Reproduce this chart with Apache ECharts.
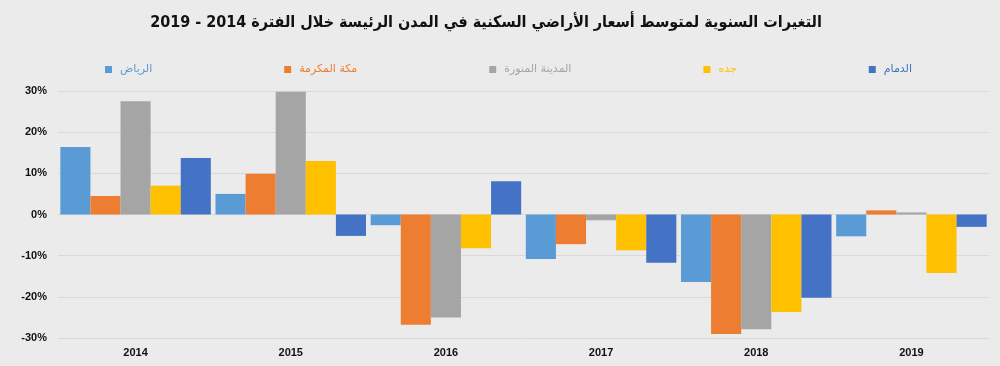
<!DOCTYPE html>
<html>
<head>
<meta charset="utf-8">
<script src="https://cdn.jsdelivr.net/npm/echarts@6/dist/echarts.min.js"></script>
<style>
html,body{margin:0;padding:0;background:#ebebeb;}
#c{width:1000px;height:366px;}
</style>
</head>
<body>
<div id="c"></div>
<script>
const years = ['2014', '2015', '2016', '2017', '2018', '2019'];
const riyadh  = [16.4, 5.0, -2.6, -10.8, -16.4, -5.3];
const makkah  = [4.5, 9.9, -26.8, -7.2, -29.0, 1.0];
const madinah = [27.5, 29.8, -25.0, -1.4, -27.9, 0.5];
const jeddah  = [7.0, 13.0, -8.2, -8.7, -23.7, -14.2];
const dammam  = [13.7, -5.2, 8.1, -11.7, -20.2, -3.0];
const seriesNames = ['الرياض', 'مكة المكرمة', 'المدينة المنورة', 'جده', 'الدمام'];
const colors = ['#5B9BD5', '#ED7D31', '#A5A5A5', '#FFC000', '#4472C4'];
const yTicks = [-30, -20, -10, 0, 10, 20, 30];
const titleText = 'التغيرات السنوية لمتوسط أسعار الأراضي السكنية في المدن الرئيسة خلال الفترة 2014 - 2019';

const dataSets = [riyadh, makkah, madinah, jeddah, dammam];
const chart = echarts.init(document.getElementById('c'), null, {renderer: 'canvas'});
chart.setOption({
  backgroundColor: '#ebebeb',
  animation: false,
  title: {
    text: titleText,
    left: 481, top: 10, textAlign: 'center',
    textStyle: {fontFamily: 'DejaVu Sans Condensed', fontWeight: 'bold', fontSize: 16, color: '#111'}
  },
  legend: {
    left: 100, top: 59,
    itemWidth: 7, itemHeight: 7, itemGap: 132,
    icon: 'rect',
    data: seriesNames.map((n, i) => ({name: n, textStyle: {color: colors[i]}})),
    textStyle: {fontFamily: 'DejaVu Sans', fontSize: 11, padding: [0, 0, 0, 3]}
  },
  grid: {left: 58, right: 11, top: 91, bottom: 28, containLabel: false},
  xAxis: {
    type: 'category',
    data: years,
    axisLine: {show: false},
    axisTick: {show: false},
    axisLabel: {fontFamily: 'Liberation Sans', fontWeight: 'bold', fontSize: 11, color: '#111', margin: 9},
    position: 'bottom'
  },
  yAxis: {
    type: 'value',
    min: yTicks[0], max: yTicks[yTicks.length - 1], interval: 10,
    axisLine: {show: false},
    axisTick: {show: false},
    splitLine: {lineStyle: {color: '#d9d9d9', width: 1}},
    axisLabel: {formatter: v => v + '%', fontFamily: 'Liberation Sans', fontWeight: 'bold', fontSize: 11, color: '#111', margin: 11}
  },
  series: dataSets.map((d, i) => ({
    name: seriesNames[i],
    type: 'bar',
    data: d,
    barGap: '0%',
    barCategoryGap: '3%',
    itemStyle: {color: colors[i]}
  }))
});
</script>
</body>
</html>
